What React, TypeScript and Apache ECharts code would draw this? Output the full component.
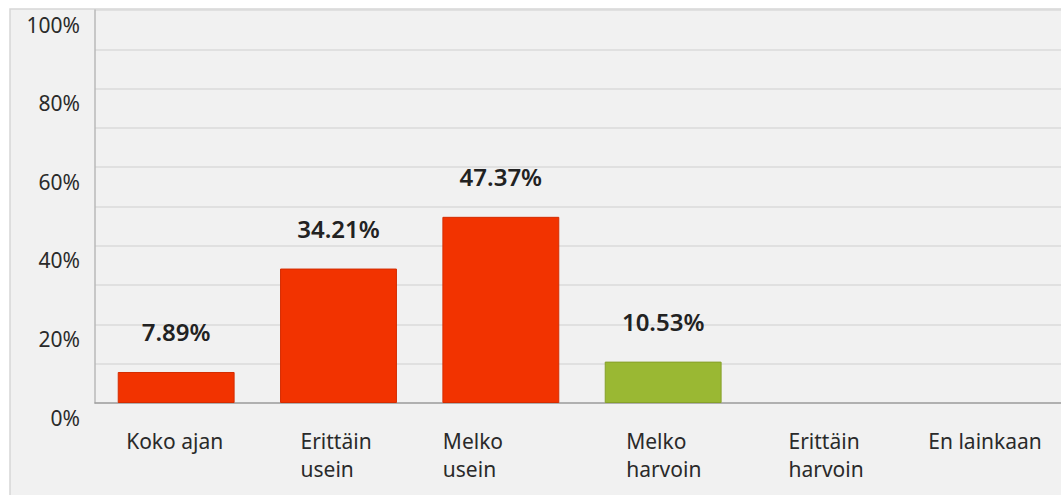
import React, { useEffect, useRef } from "react";
import * as echarts from "echarts";

const categories = ["Koko ajan", "Erittäin\nusein", "Melko\nusein", "Melko\nharvoin", "Erittäin\nharvoin", "En lainkaan"];
const values = [7.89, 34.21, 47.37, 10.53, 0, 0];
const barColors = ["#F23300", "#F23300", "#F23300", "#9AB833", "#9AB833", "#9AB833"];
const barBorders = ["#D42C00", "#D42C00", "#D42C00", "#86A02A", "#86A02A", "#86A02A"];
const yTicks = [0, 20, 40, 60, 80, 100];

export default function App() {
  const ref = useRef<HTMLDivElement>(null);
  useEffect(() => {
    if (!ref.current) return;
    const chart = echarts.init(ref.current, null, { renderer: "svg" });
    const labelBoxW = [100, 76, 116, 74, 74, 119];
    const rich: any = {};
    labelBoxW.forEach((w, i) => {
      rich["c" + i] = { width: w, align: "left", fontSize: 21, lineHeight: 28, color: "#2a2a2a", fontFamily: "Noto Sans" };
    });
    chart.setOption({
      animation: false,
      backgroundColor: "#ffffff",
      textStyle: { fontFamily: "Noto Sans" },
      graphic: [
        {
          type: "rect",
          z: -10,
          silent: true,
          shape: { x: 10, y: 9, width: 1070, height: 500 },
          style: { fill: "#f1f1f1", stroke: "#d6d6d6", lineWidth: 1.5 },
        },
      ],
      grid: { left: 95, top: 10, bottom: 92, right: 0, containLabel: false },
      xAxis: {
        type: "category",
        data: categories,
        axisLine: { show: true, lineStyle: { color: "#a0a0a0", width: 1.5 } },
        axisTick: { show: false },
        axisLabel: {
          interval: 0,
          margin: 24,
          formatter: (v: string, i: number) => v.split("\n").map((l) => `{c${i}|${l}}`).join("\n"),
          rich,
        },
      },
      yAxis: {
        type: "value",
        min: 0,
        max: 100,
        interval: 10,
        axisLine: { show: true, lineStyle: { color: "#b8b8b8", width: 1.5 } },
        axisTick: { show: false },
        splitLine: { show: true, lineStyle: { color: "#dadada", width: 1.5 } },
        axisLabel: {
          margin: 15,
          verticalAlign: "top",
          padding: [4, 0, 0, 0],
          fontSize: 21,
          color: "#2a2a2a",
          formatter: (v: number) => (yTicks.includes(v) ? v + "%" : ""),
        },
      },
      series: [
        {
          type: "bar",
          barWidth: "72%",
          data: values.map((v, i) => ({
            value: v,
            itemStyle: { color: barColors[i], borderColor: barBorders[i], borderWidth: v > 0 ? 1 : 0 },
            label: { show: v > 0 },
          })),
          label: {
            position: "top",
            distance: 28,
            fontSize: 24,
            fontWeight: 600,
            color: "#222",
            formatter: (p: any) => p.value.toFixed(2) + "%",
          },
        },
      ],
    });
    return () => chart.dispose();
  }, []);
  return (
    <div style={{ position: "fixed", left: 0, top: 0, width: 1061, height: 495, overflow: "hidden" }}>
      <div ref={ref} style={{ width: 1069, height: 495 }} />
    </div>
  );
}
